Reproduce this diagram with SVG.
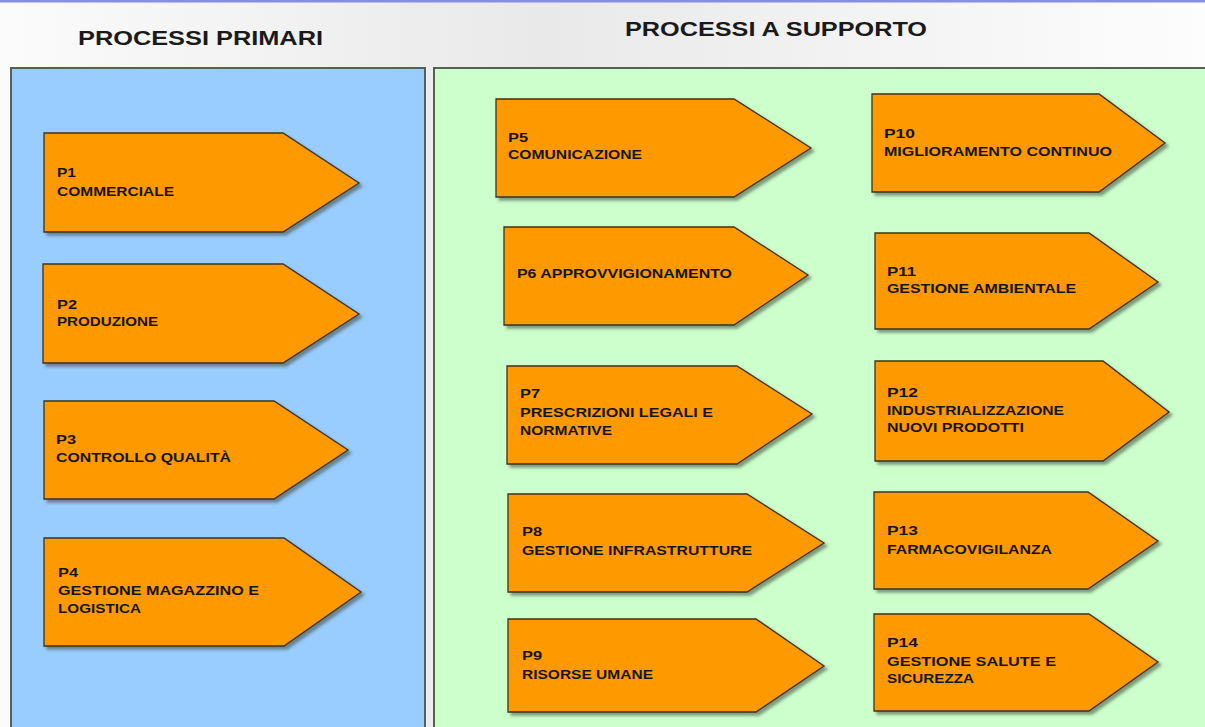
<svg xmlns="http://www.w3.org/2000/svg" width="1205" height="727" viewBox="0 0 1205 727">
  <defs>
    <linearGradient id="bg" x1="0" y1="0" x2="1" y2="0">
      <stop offset="0" stop-color="#fbfbfb"/>
      <stop offset="0.45" stop-color="#e9e9e9"/>
      <stop offset="1" stop-color="#fdfdfd"/>
    </linearGradient>
    <filter id="shadow" x="-10%" y="-10%" width="130%" height="130%">
      <feDropShadow dx="3" dy="3" stdDeviation="1.6" flood-color="#3a4a3a" flood-opacity="0.55"/>
    </filter>
  </defs>
  <style>
    .panel { stroke: #56605a; stroke-width: 2; }
    .arrow { fill: #ff9900; stroke: #3d3320; stroke-width: 1.3; filter: url(#shadow); }
    .title { font-family: "Liberation Sans", Arial, sans-serif; font-weight: bold; font-size: 21px; fill: #1a1a1a; }
    .lbl { font-family: "Liberation Sans", Arial, sans-serif; font-weight: bold; font-size: 13px; fill: #141414; }
  </style>

  <!-- background -->
  <rect x="0" y="0" width="1205" height="727" fill="url(#bg)"/>
  <rect x="0" y="0" width="1205" height="2.5" fill="#8a8aee"/>

  <!-- panels -->
  <g id="panel-primari">
    <rect class="panel" x="11" y="68" width="414" height="670" fill="#99ccff"/>
    <text class="title" x="78" y="45" textLength="245" lengthAdjust="spacingAndGlyphs">PROCESSI PRIMARI</text>
  </g>
  <g id="panel-supporto">
    <rect class="panel" x="434" y="68" width="790" height="670" fill="#ccffcc"/>
    <text class="title" x="625" y="35.5" textLength="302" lengthAdjust="spacingAndGlyphs">PROCESSI A SUPPORTO</text>
  </g>

  <g id="connectors"/>

  <!-- primary processes -->
  <g id="P1">
    <polygon class="arrow" points="44,133 283,133 359,183 283,232 44,232"/>
    <text class="lbl" x="57" y="177" textLength="19" lengthAdjust="spacingAndGlyphs">P1</text>
    <text class="lbl" x="57" y="196" textLength="117" lengthAdjust="spacingAndGlyphs">COMMERCIALE</text>
  </g>
  <g id="P2">
    <polygon class="arrow" points="43,264 283,264 359,314 283,363 43,363"/>
    <text class="lbl" x="57" y="309" textLength="20" lengthAdjust="spacingAndGlyphs">P2</text>
    <text class="lbl" x="57" y="326" textLength="101" lengthAdjust="spacingAndGlyphs">PRODUZIONE</text>
  </g>
  <g id="P3">
    <polygon class="arrow" points="44,401 274,401 348,450 274,499 44,499"/>
    <text class="lbl" x="56" y="444" textLength="20" lengthAdjust="spacingAndGlyphs">P3</text>
    <text class="lbl" x="56" y="462" textLength="175" lengthAdjust="spacingAndGlyphs">CONTROLLO  QUALITÀ</text>
  </g>
  <g id="P4">
    <polygon class="arrow" points="44,538 284,538 361,592 284,646 44,646"/>
    <text class="lbl" x="58" y="577" textLength="20" lengthAdjust="spacingAndGlyphs">P4</text>
    <text class="lbl" x="58" y="595" textLength="201" lengthAdjust="spacingAndGlyphs">GESTIONE  MAGAZZINO  E</text>
    <text class="lbl" x="58" y="613" textLength="83" lengthAdjust="spacingAndGlyphs">LOGISTICA</text>
  </g>

  <!-- support processes, column 1 -->
  <g id="P5">
    <polygon class="arrow" points="496,99 734,99 811,148 734,197 496,197"/>
    <text class="lbl" x="508" y="142" textLength="20" lengthAdjust="spacingAndGlyphs">P5</text>
    <text class="lbl" x="508" y="159" textLength="134" lengthAdjust="spacingAndGlyphs">COMUNICAZIONE</text>
  </g>
  <g id="P6">
    <polygon class="arrow" points="504,227 734,227 808,275 734,325 504,325"/>
    <text class="lbl" x="517" y="278" textLength="215" lengthAdjust="spacingAndGlyphs">P6 APPROVVIGIONAMENTO</text>
  </g>
  <g id="P7">
    <polygon class="arrow" points="507,366 737,366 812,414 737,464 507,464"/>
    <text class="lbl" x="520" y="398" textLength="20" lengthAdjust="spacingAndGlyphs">P7</text>
    <text class="lbl" x="520" y="417" textLength="193" lengthAdjust="spacingAndGlyphs">PRESCRIZIONI  LEGALI  E</text>
    <text class="lbl" x="520" y="435" textLength="92" lengthAdjust="spacingAndGlyphs">NORMATIVE</text>
  </g>
  <g id="P8">
    <polygon class="arrow" points="508,494 747,494 824,543 747,592 508,592"/>
    <text class="lbl" x="522" y="536" textLength="20" lengthAdjust="spacingAndGlyphs">P8</text>
    <text class="lbl" x="522" y="555" textLength="230" lengthAdjust="spacingAndGlyphs">GESTIONE  INFRASTRUTTURE</text>
  </g>
  <g id="P9">
    <polygon class="arrow" points="508,619 756,619 824,666 756,712 508,712"/>
    <text class="lbl" x="522" y="660" textLength="20" lengthAdjust="spacingAndGlyphs">P9</text>
    <text class="lbl" x="522" y="679" textLength="131" lengthAdjust="spacingAndGlyphs">RISORSE  UMANE</text>
  </g>

  <!-- support processes, column 2 -->
  <g id="P10">
    <polygon class="arrow" points="872,94 1099,94 1165,143 1099,192 872,192"/>
    <text class="lbl" x="884" y="138" textLength="31" lengthAdjust="spacingAndGlyphs">P10</text>
    <text class="lbl" x="884" y="156" textLength="228" lengthAdjust="spacingAndGlyphs">MIGLIORAMENTO   CONTINUO</text>
  </g>
  <g id="P11">
    <polygon class="arrow" points="875,233 1089,233 1158,282 1089,329 875,329"/>
    <text class="lbl" x="887" y="276" textLength="29" lengthAdjust="spacingAndGlyphs">P11</text>
    <text class="lbl" x="887" y="293" textLength="189" lengthAdjust="spacingAndGlyphs">GESTIONE  AMBIENTALE</text>
  </g>
  <g id="P12">
    <polygon class="arrow" points="875,361 1103,361 1169,412 1103,461 875,461"/>
    <text class="lbl" x="887" y="397" textLength="31" lengthAdjust="spacingAndGlyphs">P12</text>
    <text class="lbl" x="887" y="415" textLength="177" lengthAdjust="spacingAndGlyphs">INDUSTRIALIZZAZIONE</text>
    <text class="lbl" x="887" y="432" textLength="137" lengthAdjust="spacingAndGlyphs">NUOVI  PRODOTTI</text>
  </g>
  <g id="P13">
    <polygon class="arrow" points="874,492 1088,492 1158,541 1088,589 874,589"/>
    <text class="lbl" x="887" y="535" textLength="31" lengthAdjust="spacingAndGlyphs">P13</text>
    <text class="lbl" x="887" y="554" textLength="165" lengthAdjust="spacingAndGlyphs">FARMACOVIGILANZA</text>
  </g>
  <g id="P14">
    <polygon class="arrow" points="874,614 1089,614 1158,662 1089,711 874,711"/>
    <text class="lbl" x="887" y="647" textLength="31" lengthAdjust="spacingAndGlyphs">P14</text>
    <text class="lbl" x="887" y="666" textLength="169" lengthAdjust="spacingAndGlyphs">GESTIONE  SALUTE  E</text>
    <text class="lbl" x="887" y="683" textLength="87" lengthAdjust="spacingAndGlyphs">SICUREZZA</text>
  </g>
</svg>
